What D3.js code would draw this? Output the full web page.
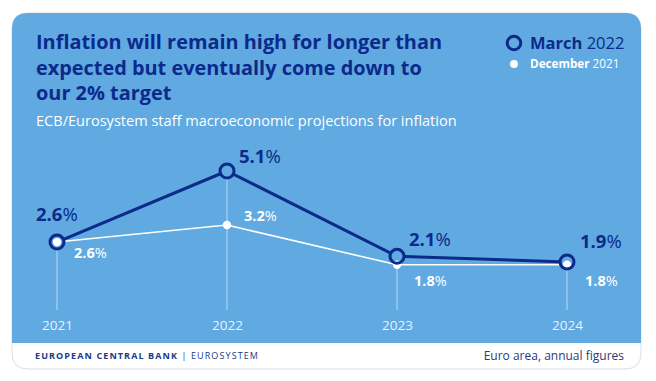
<!DOCTYPE html>
<html><head><meta charset="utf-8">
<script src="https://cdn.jsdelivr.net/npm/d3@7"></script>
<style>
html,body{margin:0;padding:0;background:#fff;}
svg{display:block;font-family:"Open Sans",sans-serif;}
</style></head>
<body><svg id="c" width="656" height="381"></svg>
<script>
const years = ["2021","2022","2023","2024"];
const march2022 = [2.6, 5.1, 2.1, 1.9];
const december2021 = [2.6, 3.2, 1.8, 1.8];
const titleLines = ["Inflation will remain high for longer than","expected but eventually come down to","our 2% target"];
const subtitle = "ECB/Eurosystem staff macroeconomic projections for inflation";

const BG = "#60a9e1", NAVY = "#0c2a8a", WHITE = "#ffffff";
const svg = d3.select("#c");

// card
const cx0 = 12, cy0 = 13, cx1 = 641, cBlueEnd = 343, cy1 = 369, r = 16;
svg.append("path")
  .attr("d", `M${cx0},${cy1-r} L${cx0},${cy0+r} Q${cx0},${cy0} ${cx0+r},${cy0} L${cx1-r},${cy0} Q${cx1},${cy0} ${cx1},${cy0+r} L${cx1},${cy1-r} Q${cx1},${cy1} ${cx1-r},${cy1} L${cx0+r},${cy1} Q${cx0},${cy1} ${cx0},${cy1-r} Z`)
  .attr("fill", "#fff").attr("stroke", "#d9dde3").attr("stroke-width", 1);
svg.append("path")
  .attr("d", `M${cx0},${cBlueEnd} L${cx0},${cy0+r} Q${cx0},${cy0} ${cx0+r},${cy0} L${cx1-r},${cy0} Q${cx1},${cy0} ${cx1},${cy0+r} L${cx1},${cBlueEnd} Z`)
  .attr("fill", BG);

// title
svg.append("text").attr("x", 36).attr("y", 49)
  .attr("fill", NAVY).attr("font-size", 19.9).attr("font-weight", 700)
  .selectAll("tspan").data(titleLines).join("tspan")
  .attr("x", 36).attr("dy", (d, i) => i === 0 ? 0 : 25.5).text(d => d);
svg.append("text").attr("x", 36).attr("y", 126)
  .attr("fill", WHITE).attr("font-size", 14.55).text(subtitle);

// legend
svg.append("circle").attr("cx", 514).attr("cy", 43).attr("r", 6.8)
  .attr("fill", "none").attr("stroke", NAVY).attr("stroke-width", 3);
const l1 = svg.append("text").attr("x", 530).attr("y", 49).attr("fill", NAVY).attr("font-size", 16.5);
l1.append("tspan").attr("font-weight", 700).text("March");
l1.append("tspan").text(" 2022");
svg.append("circle").attr("cx", 514).attr("cy", 64).attr("r", 4).attr("fill", WHITE);
const l2 = svg.append("text").attr("x", 530).attr("y", 68).attr("fill", WHITE).attr("font-size", 11.7);
l2.append("tspan").attr("font-weight", 700).text("December");
l2.append("tspan").text(" 2021");

// scales
const x = d3.scalePoint().domain(years).range([57, 567]);
const y = d3.scaleLinear().domain([0, 5.1]).range([316, 171]);

// grid lines
svg.append("g").selectAll("line").data(years).join("line")
  .attr("x1", d => x(d)).attr("x2", d => x(d))
  .attr("y1", (d, i) => y(Math.max(march2022[i], december2021[i])))
  .attr("y2", 310)
  .attr("stroke", "#cfe4f5").attr("stroke-width", 1).attr("opacity", 0.8);

// axis labels
const xAxis = d3.axisBottom(x).tickSize(0).tickPadding(0);
const ax = svg.append("g").attr("transform", "translate(0,320)").call(xAxis);
ax.select(".domain").remove();
ax.selectAll("text").attr("fill", "#e8f2fb").attr("font-size", 13.5)
  .attr("font-family", "Open Sans, sans-serif").attr("dy", "0.71em");

const line = d3.line().x((d, i) => x(years[i])).y(d => y(d));
svg.append("path").datum(march2022).attr("d", line)
  .attr("fill", "none").attr("stroke", NAVY).attr("stroke-width", 3).attr("stroke-linejoin", "round");
svg.append("path").datum(december2021).attr("d", line)
  .attr("fill", "none").attr("stroke", WHITE).attr("stroke-width", 1.6);

// march circles filled background
svg.append("g").selectAll("circle").data(march2022).join("circle")
  .attr("cx", (d, i) => x(years[i])).attr("cy", d => y(d)).attr("r", 7).attr("fill", BG);
// december dots
svg.append("g").selectAll("circle").data(december2021).join("circle")
  .attr("cx", (d, i) => x(years[i])).attr("cy", d => y(d)).attr("r", 4.2).attr("fill", WHITE);
// march rings
svg.append("g").selectAll("circle").data(march2022).join("circle")
  .attr("cx", (d, i) => x(years[i])).attr("cy", d => y(d)).attr("r", 7)
  .attr("fill", "none").attr("stroke", NAVY).attr("stroke-width", 3);

// labels
const mOff = [[-21, -21], [12, -8], [12, -10], [13, -14]];
const dOff = [[17, 16], [17, -4], [17, 21], [18, 21]];
const fmt = d3.format(".1f");
const ml = svg.append("g").selectAll("text").data(march2022).join("text")
  .attr("x", (d, i) => x(years[i]) + mOff[i][0]).attr("y", (d, i) => y(d) + mOff[i][1])
  .attr("fill", NAVY).attr("font-size", 18.5);
ml.append("tspan").attr("font-weight", 700).text(d => fmt(d));
ml.append("tspan").text("%");
const dl = svg.append("g").selectAll("text").data(december2021).join("text")
  .attr("x", (d, i) => x(years[i]) + dOff[i][0]).attr("y", (d, i) => y(d) + dOff[i][1])
  .attr("fill", WHITE).attr("font-size", 14.5);
dl.append("tspan").attr("font-weight", 700).text(d => fmt(d));
dl.append("tspan").text("%");

// footer
const f = svg.append("text").attr("x", 35).attr("y", 359).attr("fill", "#1a3a8a").attr("font-size", 9).attr("letter-spacing", 1.1);
f.append("tspan").attr("font-weight", 700).text("EUROPEAN CENTRAL BANK");
f.append("tspan").attr("font-weight", 400).text(" | EUROSYSTEM");
svg.append("text").attr("x", 624).attr("y", 360).attr("text-anchor", "end")
  .attr("fill", "#2a3a78").attr("font-size", 12).attr("font-family", "Liberation Sans Narrow, Open Sans, sans-serif").text("Euro area, annual figures");
</script></body></html>
